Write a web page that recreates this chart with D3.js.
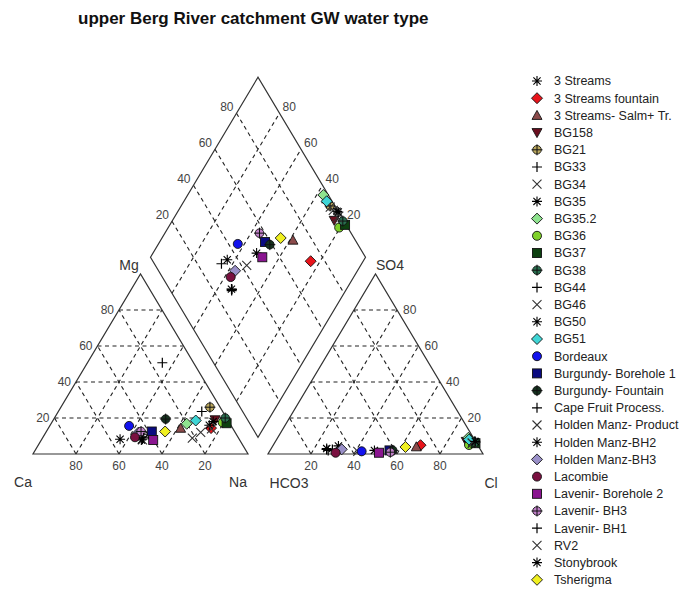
<!DOCTYPE html>
<html>
<head>
<meta charset="utf-8">
<script src="https://cdn.jsdelivr.net/npm/d3@7"></script>
<style>
  body { margin: 0; background: #fff; }
  text { font-family: Arial, "Liberation Sans", sans-serif; }
</style>
</head>
<body>
<svg id="chart" width="680" height="589"></svg>
<script>
// Sample names (legend order)
const samples = [
  "3 Streams", "3 Streams fountain", "3 Streams- Salm+ Tr.", "BG158", "BG21", "BG33", "BG34",
  "BG35", "BG35.2", "BG36", "BG37", "BG38", "BG44", "BG46", "BG50", "BG51", "Bordeaux",
  "Burgundy- Borehole 1", "Burgundy- Fountain", "Cape Fruit Process.", "Holden Manz- Product",
  "Holden Manz-BH2", "Holden Manz-BH3", "Lacombie", "Lavenir- Borehole 2", "Lavenir- BH3",
  "Lavenir- BH1", "RV2", "Stonybrook", "Tsherigma"
];

// Cations, % meq
const ca = [55.4, 10.0, 24.2, 5.8, 4.7, 14.5, 21.5, 10.0, 20.1, 3.0, 1.4, 0.6, 9.7, 45.2, 40.8, 15.0, 47.5,
            38.5, 28.6, 45.0, 16.0, 45.7, 45.0, 47.9, 40.2, 43.5, 44.0, 10.0, 7.2, 32.3];
const mg = [8.2, 14.4, 14.3, 19.0, 26.0, 50.7, 8.8, 16.0, 16.8, 17.5, 17.1, 20.0, 23.6, 7.8, 11.0, 18.6, 15.6,
            12.5, 19.4, 8.2, 12.0, 7.8, 11.9, 9.3, 7.8, 12.5, 9.0, 14.0, 18.0, 12.5];
const na = [36.4, 75.6, 61.5, 75.2, 69.3, 34.8, 69.7, 74.0, 63.1, 79.5, 81.5, 79.4, 66.7, 47.0, 48.2, 66.4, 36.9,
            49.0, 52.0, 46.8, 72.0, 46.5, 43.1, 42.8, 52.0, 44.0, 47.0, 76.0, 74.8, 55.2];

// Anions, % meq
const hco3 = [65.0, 26.6, 29.0, 4.3, 2.2, 68.8, 2.5, 0.5, 2.3, 4.0, 0.5, 0.5, 3.0, 57.5, 49.5, 2.5, 55.7,
              42.5, 41.0, 71.0, 2.0, 71.2, 64.4, 68.2, 48.0, 42.6, 71.5, 2.0, 0.1, 34.1];
const so4 = [4.5, 4.9, 4.0, 7.0, 7.5, 2.5, 6.0, 7.0, 9.0, 5.0, 6.0, 6.5, 7.0, 1.5, 2.0, 8.0, 1.5,
             2.0, 2.0, 2.0, 6.0, 3.0, 2.6, 0.7, 0.7, 1.0, 2.5, 6.0, 7.0, 3.9];
const cl = [30.5, 68.5, 67.0, 88.7, 90.3, 28.7, 91.5, 92.5, 88.7, 91.0, 93.5, 93.0, 90.0, 41.0, 48.5, 89.5, 42.8,
            55.5, 57.0, 27.0, 92.0, 25.8, 33.0, 31.1, 51.3, 56.4, 26.0, 92.0, 92.9, 62.0];

// Marker shape and fill for each sample
const shapes = ["asterisk", "diamond", "triangle", "triangleDown", "circlePlus", "plus", "cross",
  "asterisk", "diamond", "circle", "square", "circlePlus", "plus", "cross", "asterisk", "diamond", "circle",
  "square", "circlePlus", "plus", "cross", "asterisk", "diamond", "circle", "square", "circlePlus",
  "plus", "cross", "asterisk", "diamond"];
const fills = ["#000", "#e8141b", "#8c4b4b", "#6b0f1f", "#bba85e", "#000", "#333",
  "#000", "#8fe38f", "#7fd12a", "#0d4010", "#2a7050", "#000", "#333", "#000", "#3fd5d5", "#1212ee",
  "#0a0a80", "#16321f", "#000", "#333", "#000", "#9a90c8", "#7a1040", "#8a1590", "#c080c8",
  "#000", "#333", "#000", "#f0f020"];

const tickValues = [20, 40, 60, 80];
const title = "upper Berg River catchment GW water type";

const svg = d3.select("#chart");
const GAP = 20 / 215;               // gap between the two triangles, in base units
const OX = 1 + GAP;                 // x origin of the anion triangle
const x = d3.scaleLinear().domain([0, 2 + GAP]).range([33, 33 + 215 * (2 + GAP)]);
const y = d3.scaleLinear().domain([0, 1]).range([454, 274]); // 1 = triangle height

const line = d3.line().x(p => x(p[0])).y(p => y(p[1]));
const D = (n, a) => [(n + OX + a) / 2, OX + a - n];   // diamond position

const ink = "#333";
const gridG = svg.append("g");
const seg = (p, q) => gridG.append("path").attr("d", line([p, q]))
  .attr("stroke", "#222").attr("stroke-width", 1.1).attr("stroke-dasharray", "4,3.5").attr("fill", "none");

tickValues.forEach(t => {
  const f = t / 100;
  // cation triangle
  seg([f / 2, f], [1 - f / 2, f]);
  seg([f, 0], [f + (1 - f) / 2, 1 - f]);
  seg([1 - f, 0], [(1 - f) / 2, 1 - f]);
  // anion triangle
  seg([OX + f / 2, f], [OX + 1 - f / 2, f]);
  seg([OX + f, 0], [OX + f + (1 - f) / 2, 1 - f]);
  seg([OX + 1 - f, 0], [OX + (1 - f) / 2, 1 - f]);
  // diamond
  seg(D(f, 0), D(f, 1));
  seg(D(0, f), D(1, f));
});

// outlines
const outline = pts => svg.append("path").attr("d", line(pts) + "Z")
  .attr("fill", "none").attr("stroke", ink).attr("stroke-width", 1.2);
outline([[0, 0], [1, 0], [0.5, 1]]);
outline([[OX, 0], [OX + 1, 0], [OX + 0.5, 1]]);
outline([D(0, 0), D(0, 1), D(1, 1), D(1, 0)]);

// tick labels
const tl = (p, txt, anchor, dx, dy) => svg.append("text")
  .attr("x", x(p[0]) + dx).attr("y", y(p[1]) + dy).attr("text-anchor", anchor)
  .attr("font-size", 12).attr("fill", "#444").text(txt);
tickValues.forEach(t => {
  const f = t / 100;
  tl([f / 2, f], t, "end", -5, 4);               // Mg
  tl([1 - f, 0], t, "middle", 0, 16);            // Ca
  tl([OX + 1 - f / 2, f], t, "start", 6, 4);     // SO4
  tl([OX + f, 0], t, "middle", 0, 16);           // Cl
  tl(D(0, f), t, "end", -3, -2);                 // SO4 + Cl
  tl(D(1 - f, 1), t, "start", 3, -2);            // Ca + Mg
});

// axis names
const names = [["Ca", 23, 487], ["Na", 238, 487], ["Mg", 129, 270], ["SO4", 390, 270], ["HCO3", 289, 488], ["Cl", 491, 488]];
names.forEach(([t, px, py]) => svg.append("text").attr("x", px).attr("y", py)
  .attr("text-anchor", "middle").attr("font-size", 14).attr("fill", "#333").text(t));

// title
svg.append("text").attr("x", 78).attr("y", 24).attr("font-size", 17).attr("font-weight", "bold")
  .attr("fill", "#111").text(title);

// marker drawing
function marker(g, kind, fill) {
  const sw = 0.9;
  switch (kind) {
    case "circle":
      g.append("circle").attr("r", 4.5).attr("fill", fill).attr("stroke", "#111").attr("stroke-width", sw); break;
    case "square":
      g.append("rect").attr("x", -4.5).attr("y", -4.5).attr("width", 9).attr("height", 9)
        .attr("fill", fill).attr("stroke", "#111").attr("stroke-width", sw); break;
    case "diamond":
      g.append("path").attr("d", "M0,-5.5L5.5,0L0,5.5L-5.5,0Z").attr("fill", fill).attr("stroke", "#111").attr("stroke-width", sw); break;
    case "triangle":
      g.append("path").attr("d", "M0,-5L5,4L-5,4Z").attr("fill", fill).attr("stroke", "#111").attr("stroke-width", sw); break;
    case "triangleDown":
      g.append("path").attr("d", "M0,5L5,-4L-5,-4Z").attr("fill", fill).attr("stroke", "#111").attr("stroke-width", sw); break;
    case "circlePlus":
      g.append("circle").attr("r", 4.3).attr("fill", fill).attr("stroke", "#111").attr("stroke-width", sw);
      g.append("path").attr("d", "M-5.5,0H5.5M0,-5.5V5.5").attr("stroke", "#111").attr("stroke-width", 1); break;
    case "plus":
      g.append("path").attr("d", "M-5,0H5M0,-5V5").attr("stroke", fill).attr("stroke-width", 1.2); break;
    case "cross":
      g.append("path").attr("d", "M-4.5,-4.5L4.5,4.5M-4.5,4.5L4.5,-4.5").attr("stroke", fill).attr("stroke-width", 1.1); break;
    case "asterisk":
      g.append("path").attr("d", "M-5,0H5M0,-5V5M-3.6,-3.6L3.6,3.6M-3.6,3.6L3.6,-3.6").attr("stroke", fill).attr("stroke-width", 1.1); break;
  }
}

// data points in all three fields
const pts = svg.append("g");
samples.forEach((s, i) => {
  const cNa = na[i] / 100, cMg = mg[i] / 100;
  const aCl = cl[i] / 100, aSo4 = so4[i] / 100;
  const cat = [cNa + cMg / 2, cMg];
  const an = [OX + aCl + aSo4 / 2, aSo4];
  const dia = D(cNa, aCl + aSo4);
  [cat, an, dia].forEach(p => {
    const g = pts.append("g").attr("transform", `translate(${x(p[0])},${y(p[1])})`);
    marker(g, shapes[i], fills[i]);
  });
});

// legend
const leg = svg.append("g");
samples.forEach((s, i) => {
  const ly = 81 + i * 17.2;
  const g = leg.append("g").attr("transform", `translate(537,${ly})`);
  marker(g, shapes[i], fills[i]);
  leg.append("text").attr("x", 554).attr("y", ly + 4.3).attr("font-size", 12.5).attr("fill", "#222").text(s);
});
</script>
</body>
</html>
